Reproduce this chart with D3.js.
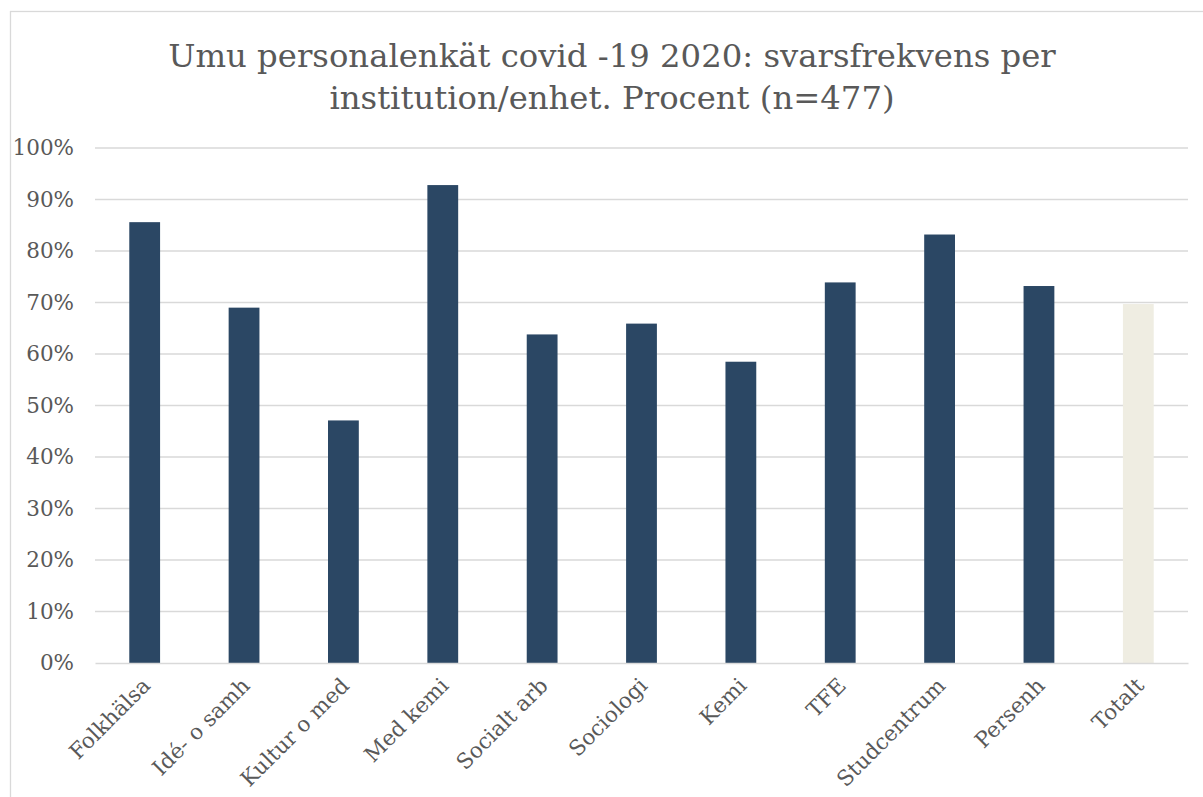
<!DOCTYPE html>
<html>
<head>
<meta charset="utf-8">
<script src="https://cdn.jsdelivr.net/npm/d3@7"></script>
<style>
  html, body { margin: 0; padding: 0; background: #fff; }
  svg { display: block; }
  text { font-family: "DejaVu Serif", serif; fill: #595959; }
</style>
</head>
<body>
<svg id="chart" width="1203" height="797"></svg>
<script>
const categories = ["Folkhälsa", "Idé- o samh", "Kultur o med", "Med kemi", "Socialt arb", "Sociologi", "Kemi", "TFE", "Studcentrum", "Persenh", "Totalt"];
const values = [85.6, 69.0, 47.1, 92.8, 63.8, 65.9, 58.5, 73.9, 83.2, 73.2, 69.7];
const yTicks = [0, 10, 20, 30, 40, 50, 60, 70, 80, 90, 100];
const titleLines = ["Umu personalenkät covid -19 2020: svarsfrekvens per", "institution/enhet. Procent (n=477)"];

const svg = d3.select("#chart");
const W = 1203, H = 797;
const plot = { left: 95, right: 1188, top: 148, bottom: 663 };
const FONT = "\"DejaVu Serif\", serif";

// Frame
svg.append("rect").attr("x", 10.5).attr("y", 11.5).attr("width", W).attr("height", H)
  .attr("fill", "#fff").attr("stroke", "#d9d9d9").attr("stroke-width", 1.3);

// Title
svg.append("text").attr("x", 612).attr("y", 67).attr("text-anchor", "middle")
  .style("font-size", "32.3px").style("font-family", FONT)
  .selectAll("tspan").data(titleLines).join("tspan")
  .attr("x", 612).attr("dy", (d, i) => i === 0 ? 0 : 42).text(d => d);

const x = d3.scaleBand().domain(categories).range([plot.left, plot.right]).paddingInner(0.69).paddingOuter(0.345);
const y = d3.scaleLinear().domain([0, 100]).range([plot.bottom, plot.top]);

// Gridlines
svg.append("g").selectAll("line").data(yTicks.filter(t => t > 0)).join("line")
  .attr("x1", plot.left).attr("x2", plot.right)
  .attr("y1", d => y(d)).attr("y2", d => y(d))
  .attr("stroke", "#d9d9d9").attr("stroke-width", 1.3);

// Y axis labels
const yAxis = d3.axisLeft(y).tickValues(yTicks).tickFormat(d => d + "%").tickSize(0).tickPadding(21);
const gy = svg.append("g").attr("transform", `translate(${plot.left},0)`).call(yAxis);
gy.select(".domain").remove();
gy.selectAll("text").style("font-size", "21.5px").style("font-family", FONT).attr("fill", "#595959");

// Bars
svg.append("g").selectAll("rect").data(categories).join("rect")
  .attr("x", d => x(d)).attr("width", x.bandwidth())
  .attr("y", (d, i) => y(values[i])).attr("height", (d, i) => y(0) - y(values[i]))
  .attr("fill", d => d === "Totalt" ? "#efede2" : "#2b4764");

// X axis
const xAxis = d3.axisBottom(x).tickSize(0).tickPadding(0);
const gx = svg.append("g").attr("transform", `translate(0,${plot.bottom})`).call(xAxis);
gx.select(".domain").attr("stroke", "#d9d9d9").attr("stroke-width", 1.3);
gx.selectAll("text")
  .style("font-size", "21.5px").style("font-family", FONT).attr("fill", "#595959")
  .attr("text-anchor", "end").attr("dy", null).attr("y", 0)
  .attr("transform", "translate(7,24) rotate(-45)");
</script>
</body>
</html>
